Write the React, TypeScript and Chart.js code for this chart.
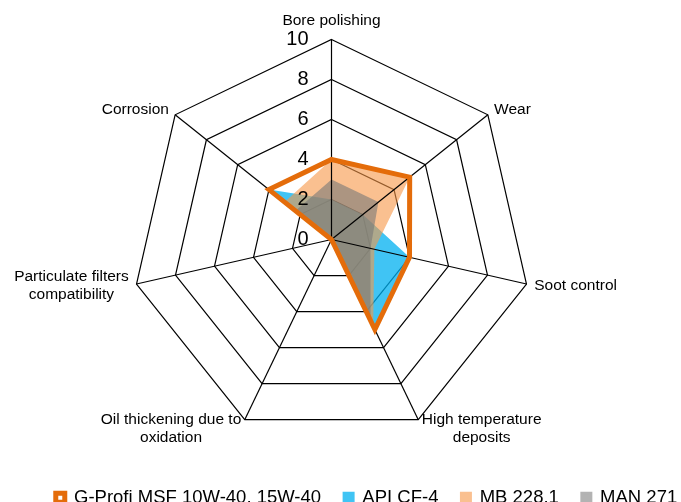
import React, { useEffect, useRef } from 'react';
import { Chart, registerables } from 'chart.js';

Chart.register(...registerables);

// ---- data ----
const categories: (string | string[])[] = [
  'Bore polishing',
  'Wear',
  'Soot control',
  ['High temperature', 'deposits'],
  ['Oil thickening due to', 'oxidation'],
  ['Particulate filters', 'compatibility'],
  'Corrosion',
];
const seriesNames = ['G-Profi MSF 10W-40, 15W-40', 'API CF-4', 'MB 228.1', 'MAN 271'];
const gProfiValues = [4, 5, 4, 5, 0, 0, 4];
const apiCF4Values = [2, 2, 4, 5, 0, 0, 4];
const mb2281Values = [4, 5, 2.2, 4.8, 0, 0, 3];
const man271Values = [3, 3, 2, 4.5, 0, 0, 2.3];
const scaleMin = 0;
const scaleMax = 10;
const tickStep = 2;

// ---- styles ----
const FONT = '"Liberation Sans", Arial, sans-serif';
const ORANGE = '#E46C0A';
const legendSolid = ['#FFFFFF', '#40C4F4', '#FAC090', '#B3B3B3'];

const overlayPlugin = {
  id: 'overlayPlugin',
  afterDatasetDraw(chart: any, args: any) {
    // spokes drawn above the filled areas, below the G-Profi outline
    if (args.index !== 3) return;
    const scale = chart.scales.r;
    const ctx = chart.ctx;
    ctx.save();
    ctx.strokeStyle = '#000';
    ctx.lineWidth = 1.2;
    const n = chart.data.labels.length;
    for (let i = 0; i < n; i++) {
      const p = scale.getPointPosition(i, scale.drawingArea);
      ctx.beginPath();
      ctx.moveTo(scale.xCenter, scale.yCenter);
      ctx.lineTo(p.x, p.y);
      ctx.stroke();
    }
    ctx.restore();
  },
  afterDatasetsDraw(chart: any) {
    const scale = chart.scales.r;
    const ctx = chart.ctx;
    ctx.save();
    // tick labels
    ctx.font = `20px ${FONT}`;
    ctx.fillStyle = '#000';
    ctx.textAlign = 'right';
    ctx.textBaseline = 'middle';
    scale.ticks.forEach((t: any) => {
      const d = scale.getDistanceFromCenterForValue(t.value);
      ctx.fillText(String(t.value), scale.xCenter - 23, scale.yCenter - d);
    });
    // point labels
    ctx.font = `15.5px ${FONT}`;
    ctx.textAlign = 'center';
    const lh = 18;
    chart.data.labels.forEach((lab: any, i: number) => {
      const lines: string[] = Array.isArray(lab) ? lab : [lab];
      const p = scale.getPointPosition(i, scale.drawingArea + 8);
      const w = Math.max(...lines.map((l) => ctx.measureText(l).width));
      const dx = p.x - scale.xCenter;
      let cx = p.x;
      if (dx > 1) cx = p.x + w / 2;
      else if (dx < -1) cx = p.x - w / 2;
      const blockH = lines.length * lh;
      let cy = p.y;
      if (Math.abs(dx) <= 1) {
        cy = p.y < scale.yCenter ? p.y - blockH / 2 - 2 : p.y + blockH / 2 + 2;
      } else if (p.y > scale.yCenter + 100) {
        cy = p.y + 2;
      }
      lines.forEach((l, k) => {
        ctx.fillText(l, cx, cy - blockH / 2 + lh / 2 + k * lh);
      });
    });
    ctx.restore();
  },
};

export default function App() {
  const ref = useRef<HTMLCanvasElement | null>(null);

  useEffect(() => {
    if (!ref.current) return;
    const chart = new Chart(ref.current, {
      type: 'radar',
      data: {
        labels: categories as any,
        datasets: [
          {
            label: seriesNames[0],
            data: gProfiValues,
            fill: false,
            backgroundColor: '#FFFFFF',
            borderColor: ORANGE,
            borderWidth: 5,
            borderJoinStyle: 'miter',
            pointRadius: 0,
            pointHoverRadius: 0,
            order: 0,
            clip: false,
          } as any,
          {
            label: seriesNames[1],
            data: apiCF4Values,
            fill: true,
            backgroundColor: 'rgba(0,176,240,0.75)',
            borderColor: 'rgba(0,0,0,0)',
            borderWidth: 0,
            pointRadius: 0,
            pointHoverRadius: 0,
            order: 3,
            clip: false,
          } as any,
          {
            label: seriesNames[2],
            data: mb2281Values,
            fill: true,
            backgroundColor: 'rgba(247,150,70,0.6)',
            borderColor: 'rgba(0,0,0,0)',
            borderWidth: 0,
            pointRadius: 0,
            pointHoverRadius: 0,
            order: 2,
            clip: false,
          } as any,
          {
            label: seriesNames[3],
            data: man271Values,
            fill: true,
            backgroundColor: 'rgba(120,120,120,0.6)',
            borderColor: 'rgba(0,0,0,0)',
            borderWidth: 0,
            pointRadius: 0,
            pointHoverRadius: 0,
            order: 1,
            clip: false,
          } as any,
        ],
      },
      options: {
        responsive: false,
        animation: false,
        layout: { padding: { left: 30, right: 0, top: 0, bottom: 0 } },
        scales: {
          r: {
            min: scaleMin,
            max: scaleMax,
            ticks: { stepSize: tickStep, display: false },
            grid: { color: '#000', lineWidth: 1.2, circular: false },
            angleLines: { display: false },
            pointLabels: { display: false },
            afterFit: (scale: any) => {
              scale.xCenter = 331.5;
              scale.yCenter = 239.5;
              scale.drawingArea = 200;
            },
          } as any,
        },
        plugins: {
          tooltip: { enabled: false },
          legend: {
            display: true,
            position: 'bottom',
            align: 'center',
            labels: {
              boxWidth: 9,
              boxHeight: 9,
              padding: 23,
              color: '#000',
              font: { size: 18.5, family: FONT },
              sort: (a: any, b: any) => a.datasetIndex - b.datasetIndex,
              generateLabels: (ch: any) => {
                const items = (Chart as any).defaults.plugins.legend.labels.generateLabels(ch);
                items.forEach((it: any) => {
                  if (it.datasetIndex !== 0) {
                    it.fillStyle = legendSolid[it.datasetIndex];
                    it.strokeStyle = legendSolid[it.datasetIndex];
                    it.lineWidth = 3;
                  } else {
                    it.fillStyle = legendSolid[0];
                    it.lineWidth = 5;
                  }
                });
                return items;
              },
            },
          } as any,
        },
      },
      plugins: [overlayPlugin],
    });
    return () => chart.destroy();
  }, []);

  return (
    <div
      style={{
        position: 'absolute',
        left: 0,
        top: 0,
        width: 681,
        height: 502,
        overflow: 'hidden',
        background: '#fff',
      }}
    >
      <canvas ref={ref} width={703} height={517} style={{ display: 'block', width: 703, height: 517 }} />
    </div>
  );
}
